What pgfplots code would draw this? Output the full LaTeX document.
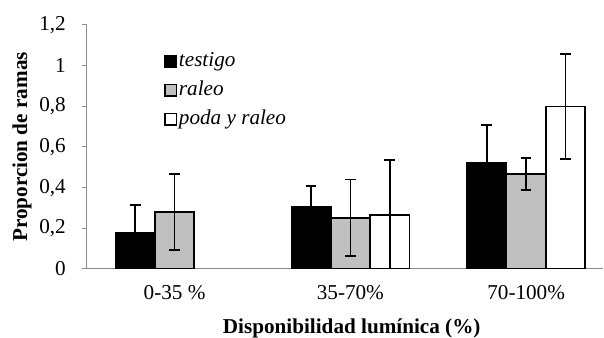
\documentclass[border=0pt]{standalone}
\usepackage{pgfplots}
\pgfplotsset{compat=1.18}
\usepackage{fontspec}
\setmainfont{Liberation Serif}
\newcommand{\fs}{\fontsize{12.7}{15}\selectfont}
\definecolor{axgray}{HTML}{8C8C8C}
\definecolor{barraleo}{HTML}{C0C0C0}
\begin{document}
\begin{tikzpicture}
  \useasboundingbox (-52pt,-41.4pt) rectangle (310.4pt,161.4pt);
  \begin{axis}[
    scale only axis,
    width=310pt, height=146.4pt,
    at={(0,0)}, anchor=south west,
    ybar=0pt, bar width=23.6pt,
    xmin=-0.5, xmax=2.439,
    ymin=0, ymax=1.2,
    ytick={0,0.2,...,1.2},
    xtick={0,1,2},
    xticklabels={0-35 \%,35-70\%,70-100\%},
    extra x ticks={-0.5,0.5,1.5},
    extra x tick labels={},
    extra x tick style={major tick length=3.6pt, tick style={axgray, line width=0.6pt}},
    axis x line*=bottom, axis y line*=left,
    axis line style={axgray, line width=0.6pt, -},
    tick align=outside,
    x tick style={draw=none},
    y tick style={axgray, line width=0.6pt},
    major tick length=3pt,
    /pgf/number format/use comma,
    /pgf/number format/assume math mode=true,
    tick label style={font=\fs},
    yticklabel style={xshift=-6pt},
    xticklabel style={anchor=center, yshift=-11pt},
    ylabel={\bfseries Proporcion de ramas},
    xlabel={\bfseries Disponibilidad lumínica (\%)},
    label style={font=\fs},
    ylabel style={at={([xshift=-38.8pt]axis description cs:0,0.5)}, anchor=center},
    xlabel style={at={([yshift=-35.4pt]axis description cs:0.513,0)}, anchor=center},
    legend style={at={(axis description cs:0.149,0.90)}, anchor=north west,
      draw=none, fill=none, font=\fs\itshape, inner sep=0pt,
      row sep=3.4pt, column sep=0pt,
      nodes={inner sep=1pt, text height=9pt, text depth=3pt}},
    legend cell align=left,
    legend image code/.code={\draw[#1, line width=1pt] (0pt,-3.4pt) rectangle (7pt,3.6pt);},
    error bars/y dir=both, error bars/y explicit,
    error bars/error bar style={black, line width=1pt},
    error bars/error mark options={rotate=90, black, line width=1pt, mark size=3.2pt},
  ]
    % testigo
    \addplot[draw=black, fill=black, line width=1pt] coordinates {
      (0, 0.180) +- (0, 0.136)
      (1, 0.305) +- (0, 0.104)
      (2, 0.520) +- (0, 0.187)
    };
    % raleo
    \addplot[draw=black, fill=barraleo, line width=1pt] coordinates {
      (0, 0.280) +- (0, 0.188)
      (1, 0.252) +- (0, 0.188)
      (2, 0.468) +- (0, 0.079)
    };
    % poda y raleo
    \addplot[draw=black, fill=white, line width=1pt] coordinates {
      (1, 0.267) += (0, 0.270) -= (0, 0.267)
      (2, 0.799) += (0, 0.259) -= (0, 0.257)
    };
    \legend{testigo,raleo,poda y raleo}
  \end{axis}
\end{tikzpicture}
\end{document}
